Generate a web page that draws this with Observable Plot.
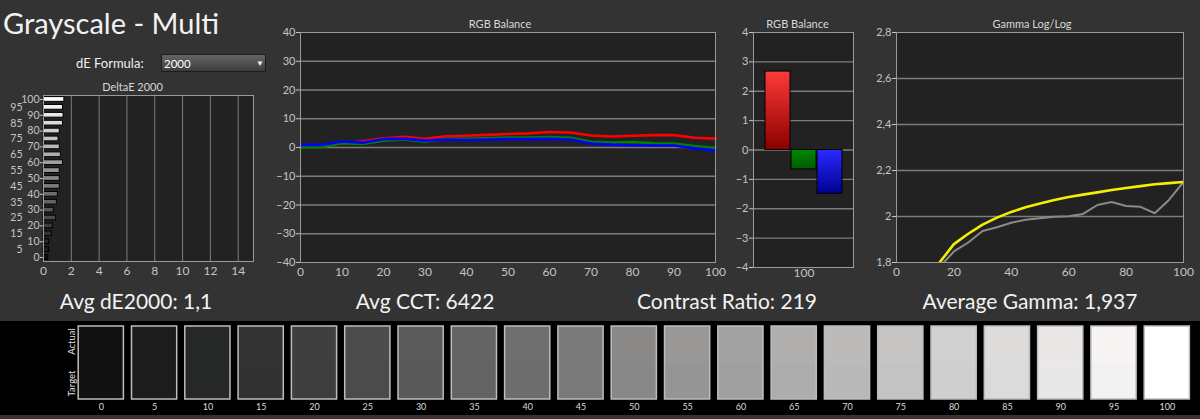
<!DOCTYPE html>
<html><head><meta charset="utf-8">
<script src="https://cdn.jsdelivr.net/npm/d3@7"></script>
<script src="https://cdn.jsdelivr.net/npm/@observablehq/plot@0.6"></script>
<style>
html,body{margin:0;padding:0;background:#333;}
#root{position:relative;width:1200px;height:419px;overflow:hidden;background:#333;font-family:Lato,"Open Sans",sans-serif;color:#eee;}
.layer{position:absolute;left:0;top:0;}
.t{position:absolute;white-space:nowrap;line-height:1;}
#strip{position:absolute;left:0;top:321px;width:1200px;height:94px;background:#000;}
#dd{position:absolute;left:161px;top:54px;width:103px;height:16px;border:1px solid #1c1c1c;background:linear-gradient(#646464,#3c3c3c);}
</style></head>
<body>
<div id="root">
  <div class="t" style="left:3px;top:8px;font-size:29px;color:#f2f2f2;">Grayscale - Multi</div>
  <div class="t" style="left:76px;top:56.5px;font-size:13px;color:#f0f0f0;">dE Formula:</div>
  <div id="dd"><span class="t" style="left:2px;top:3px;font-size:11.5px;color:#fff;">2000</span><span class="t" style="left:94px;top:4px;font-size:8px;color:#eee;">▼</span></div>
  <div id="strip"></div>
</div>
<script>
// ---------- data ----------
const levels = [0,5,10,15,20,25,30,35,40,45,50,55,60,65,70,75,80,85,90,95,100];
const deltaE = [0.34,0.41,0.41,0.6,0.67,0.91,0.74,0.96,1.03,1.17,1.17,1.17,1.4,1.25,1.17,1.08,1.17,1.4,1.44,1.4,1.5];
const rgbRed   = [0.3,0.5,1.4,2.2,3.2,3.7,3.0,3.9,4.1,4.4,4.7,4.9,5.4,5.2,4.2,3.8,4.1,4.3,4.3,3.4,3.1];
const rgbGreen = [0.1,0.1,1.5,1.2,2.4,2.8,2.0,3.0,3.0,3.2,3.5,3.5,3.6,3.4,2.0,1.7,1.9,1.5,1.4,0.5,-0.2];
const rgbBlue  = [0.9,0.9,2.1,1.7,2.9,3.1,2.4,2.8,2.6,2.8,2.9,2.9,3.0,2.8,1.4,1.0,0.8,0.7,0.7,-0.3,-1.0];
const balanceChannels = ["R","G","B"];
const balanceValues = [2.67,-0.66,-1.49];
const gammaTargetLevels = [10,15,20,25,30,35,40,45,50,55,60,65,70,75,80,85,90,95,100];
const gammaTarget = [1.70,1.80,1.88,1.925,1.965,1.995,2.02,2.04,2.057,2.072,2.085,2.095,2.105,2.115,2.124,2.132,2.14,2.145,2.15];
const gammaActualLevels = [15,20,25,30,35,40,45,50,55,60,65,70,75,80,85,90,95,100];
const gammaActual = [1.78,1.848,1.887,1.937,1.953,1.973,1.986,1.992,1.999,2.001,2.011,2.05,2.063,2.046,2.042,2.014,2.073,2.15];
const swatchActual = ["#111111","#1c1c1c","#262828","#333333","#3f3f3f","#4c4c4c","#5a5a5a","#646464","#6f6f6f","#7c7b7b","#8a8987","#999897","#a3a2a2","#b0afae","#bcbbba","#c6c5c4","#d1d0d0","#dddcdb","#ebe7e7","#f7f4f3","#ffffff"];
const swatchTarget = ["#111111","#1c1c1c","#262727","#323232","#3e3e3e","#4b4b4b","#595959","#636363","#6d6d6d","#7a7a7a","#888888","#959595","#a0a0a0","#adadad","#b9b9b9","#c3c3c3","#cfcfcf","#dbdbdb","#e8e8e8","#f2f2f2","#ffffff"];
const deXTicks = [0,2,4,6,8,10,12,14];
const deYTicksMajor = [0,10,20,30,40,50,60,70,80,90,100];
const deYTicksMinor = [5,15,25,35,45,55,65,75,85,95];
const rgbXTicks = [0,10,20,30,40,50,60,70,80,90,100];
const rgbYTicks = [-40,-30,-20,-10,0,10,20,30,40];
const barYTicks = [-4,-3,-2,-1,0,1,2,3,4];
const gammaXTicks = [0,20,40,60,80,100];
const gammaYTicks = [1.8,2,2.2,2.4,2.6,2.8];
const statTexts = ["Avg dE2000: 1,1","Avg CCT: 6422","Contrast Ratio: 219","Average Gamma: 1,937"];
const chartTitles = ["DeltaE 2000","RGB Balance","RGB Balance","Gamma Log/Log"];

// ---------- tables ----------
const deData = levels.map((l,i)=>({level:l, de:deltaE[i], fill:swatchTarget[i]}));
const rgbData = levels.map((l,i)=>({level:l, r:rgbRed[i], g:rgbGreen[i], b:rgbBlue[i]}));
const balData = balanceChannels.map((c,i)=>({ch:c, v:balanceValues[i]}));
const gtData = gammaTargetLevels.map((l,i)=>({level:l, g:gammaTarget[i]}));
const gaData = gammaActualLevels.map((l,i)=>({level:l, g:gammaActual[i]}));
const swData = levels.map((l,i)=>({level:l, actual:swatchActual[i], target:swatchTarget[i]}));

const root = document.getElementById("root");
const FONT = "Lato, 'Open Sans', sans-serif";
const baseStyle = {background:"transparent", color:"#c4c4c4", fontFamily:FONT, fontSize:"11px", overflow:"visible"};
const GRID = "#7c7c7c", FRAME = "#9a9a9a", PBG = "#222222";
function add(el, parent){ el.classList.add("layer"); (parent||root).appendChild(el); }
const title = (txt, dx) => Plot.text([txt], {text:d=>d, frameAnchor:"top", dx, dy:-8, lineAnchor:"middle", fontSize:11, fill:"#d8d8d8"});

// DeltaE chart
add(Plot.plot({
  width:1200, height:322, marginLeft:43, marginRight:947, marginTop:95, marginBottom:61,
  style:baseStyle, x:{domain:[0,15.1]}, y:{domain:[-2.5,102.5]}, color:{type:"identity"},
  marks:[
    Plot.frame({fill:PBG}),
    Plot.ruleX(deXTicks.slice(1), {stroke:GRID}),
    Plot.rectX(deData, {x1:d=>0, x2:"de", y1:d=>d.level-1.5, y2:d=>d.level+1.5, fill:"fill", stroke:"#000", strokeWidth:1}),
    Plot.frame({stroke:FRAME}),
    Plot.axisY({ticks:deYTicksMajor, tickSize:3, tickPadding:1, fontSize:10.5, label:null}),
    Plot.axisY({ticks:deYTicksMinor, tickSize:0, tickPadding:21, fontSize:10.5, label:null}),
    Plot.axisX({ticks:deXTicks, tickSize:0, tickPadding:5, fontSize:12, label:null}),
    title(chartTitles[0], -16)
  ]
}));

// RGB balance lines
add(Plot.plot({
  width:1200, height:322, marginLeft:300, marginRight:485, marginTop:32, marginBottom:60,
  style:baseStyle, x:{domain:[0,100]}, y:{domain:[-40,40]},
  marks:[
    Plot.frame({fill:PBG}),
    Plot.ruleY(rgbYTicks.slice(1,-1), {stroke:GRID, strokeWidth:1.3}),
    Plot.line(rgbData, {x:"level", y:"r", stroke:"#ff0000", strokeWidth:2.6}),
    Plot.line(rgbData, {x:"level", y:"g", stroke:"#008200", strokeWidth:2.6}),
    Plot.line(rgbData, {x:"level", y:"b", stroke:"#0000ff", strokeWidth:2.6}),
    Plot.frame({stroke:FRAME}),
    Plot.axisY({ticks:rgbYTicks, tickSize:4, tickPadding:1, fontSize:11, label:null}),
    Plot.axisX({ticks:rgbXTicks, tickSize:0, tickPadding:5, fontSize:12, label:null}),
    title(chartTitles[1], -8)
  ]
}));

// RGB balance bars
const defs = () => {
  const d = d3.create("svg:defs");
  const mk = (id, top, bot) => {
    const g = d.append("linearGradient").attr("id", id).attr("x1",0).attr("y1",0).attr("x2",0).attr("y2",1);
    g.append("stop").attr("offset","0%").attr("stop-color",top);
    g.append("stop").attr("offset","100%").attr("stop-color",bot);
  };
  mk("gR","#ff3a3a","#8a0000"); mk("gG","#008800","#005a00"); mk("gB","#2a2aff","#000090");
  return d.node();
};
add(Plot.plot({
  width:1200, height:322, marginLeft:753, marginRight:347, marginTop:32, marginBottom:55,
  style:baseStyle, x:{type:"band", domain:balanceChannels, paddingInner:0.04, paddingOuter:0.4},
  y:{domain:[-4,4]}, color:{type:"identity"},
  marks:[
    defs,
    Plot.frame({fill:PBG}),
    Plot.ruleY(barYTicks.slice(1,-1), {stroke:GRID, strokeWidth:1.3}),
    Plot.barY(balData, {x:"ch", y:"v", fill:d=>`url(#g${d.ch})`, stroke:"#000", strokeWidth:1}),
    Plot.frame({stroke:FRAME}),
    Plot.axisY({ticks:barYTicks, tickSize:4, tickPadding:1, fontSize:11, label:null}),
    Plot.axisX({ticks:["G"], tickFormat:()=>"100", tickSize:0, tickPadding:1, fontSize:12, label:null}),
    title(chartTitles[2], -6)
  ]
}));

// Gamma chart
const gfmt = d => d3.format(".1~f")(d).replace(".", ",");
add(Plot.plot({
  width:1200, height:322, marginLeft:896, marginRight:17, marginTop:32, marginBottom:60,
  style:baseStyle, x:{domain:[0,100]}, y:{domain:[1.8,2.8]},
  marks:[
    Plot.frame({fill:PBG}),
    Plot.ruleY(gammaYTicks.slice(1,-1), {stroke:GRID, strokeWidth:1.3}),
    Plot.line(gaData, {x:"level", y:"g", stroke:"#8a8a8a", strokeWidth:2, clip:true}),
    Plot.line(gtData, {x:"level", y:"g", stroke:"#f2f200", strokeWidth:2.6, clip:true}),
    Plot.frame({stroke:FRAME}),
    Plot.axisY({ticks:gammaYTicks, tickFormat:gfmt, tickSize:4, tickPadding:1, fontSize:11, label:null}),
    Plot.axisX({ticks:gammaXTicks, tickSize:0, tickPadding:5, fontSize:12, label:null}),
    title(chartTitles[3], -8)
  ]
}));

// stats texts
const statCenters = [136, 425, 727, 1030];
statTexts.forEach((s,i)=>{
  const d = document.createElement("div");
  d.className = "t";
  d.style.cssText = `left:${statCenters[i]-170}px;width:340px;text-align:center;top:289.5px;font-size:21px;color:#f2f2f2;`;
  d.textContent = s;
  root.appendChild(d);
});

// swatches
const strip = document.getElementById("strip");
const sw = Plot.plot({
  width:1200, height:94, marginLeft:100.8, marginRight:33.2, marginTop:5, marginBottom:16,
  style:{...baseStyle, color:"#dddddd"}, x:{domain:[0,100]}, y:{domain:[0,1], axis:null}, color:{type:"identity"},
  marks:[
    Plot.rect(swData, {x1:d=>d.level-2.12, x2:d=>d.level+2.12, y1:d=>0, y2:d=>1, fill:"target"}),
    Plot.rect(swData, {x1:d=>d.level-2.12, x2:d=>d.level+2.12, y1:d=>0.5, y2:d=>1, fill:"actual"}),
    Plot.rect(swData, {x1:d=>d.level-2.12, x2:d=>d.level+2.12, y1:d=>0, y2:d=>1, fill:"none", stroke:"#bdbdbd", strokeWidth:1.5}),
    Plot.text(["Actual"], {text:d=>d, frameAnchor:"top-left", dx:-29, dy:15, rotate:-90, lineAnchor:"middle", textAnchor:"middle", fontSize:9.5, fill:"#e0e0e0"}),
    Plot.text(["Target"], {text:d=>d, frameAnchor:"bottom-left", dx:-29, dy:-16, rotate:-90, lineAnchor:"middle", textAnchor:"middle", fontSize:9.5, fill:"#e0e0e0"}),
    Plot.axisX({ticks:levels, tickSize:0, tickPadding:4, fontSize:9, label:null})
  ]
});
add(sw, strip);
</script>
</body></html>
